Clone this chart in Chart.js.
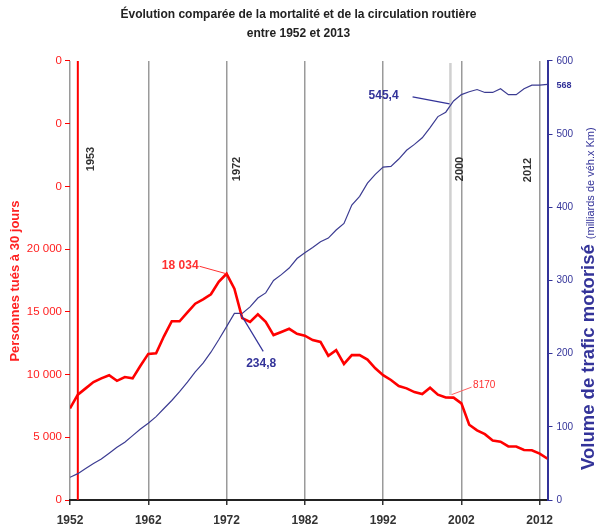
<!DOCTYPE html>
<html>
<head>
<meta charset="utf-8">
<script src="https://cdn.jsdelivr.net/npm/chart.js@4/dist/chart.umd.min.js"></script>
<style>
  html, body { margin: 0; padding: 0; background: #ffffff; }
  #c { display: block; }
</style>
</head>
<body>
<canvas id="c" width="597" height="528"></canvas>
<script>
// ---- Data ----
const years = [1952,1953,1954,1955,1956,1957,1958,1959,1960,1961,
               1962,1963,1964,1965,1966,1967,1968,1969,1970,1971,
               1972,1973,1974,1975,1976,1977,1978,1979,1980,1981,
               1982,1983,1984,1985,1986,1987,1988,1989,1990,1991,
               1992,1993,1994,1995,1996,1997,1998,1999,2000,2001,
               2002,2003,2004,2005,2006,2007,2008,2009,2010,2011,
               2012,2013];

// Personnes tuées à 30 jours
const deaths = [7300,8400,8900,9400,9700,9950,9500,9800,9700,10700,
                11650,11700,13050,14250,14250,14950,15650,16000,16400,17400,
                18034,16850,14500,14200,14800,14200,13150,13400,13650,13250,
                13100,12750,12600,11500,11950,10850,11550,11550,11200,10500,
                9950,9570,9080,8900,8600,8450,8950,8400,8170,8160,
                7700,6000,5550,5250,4750,4650,4270,4260,3990,3970,
                3700,3300];

// Volume de trafic motorisé (milliards de véh.x Km)
const traffic = [31,36,43,50,56,64,72,79,88,97,
                 105,114,125,136,148,161,175,187,202,219,
                 237,255,255,264,276,283,300,308,317,330,
                 338,345,353,358,369,378,403,415,433,445,
                 455,456,466,478,486,495,509,524,530,545.4,
                 554,558,561,557,557,562,554,554,562,567,
                 567,568];

const xTickYears = [1952,1962,1972,1982,1992,2002,2012];
const markerYears = ['1953','1972','2000','2012'];
const titleLines = ['Évolution comparée de la mortalité et de la circulation routière', 'entre 1952 et 2013'];

const FONT = "'Liberation Sans', Arial, sans-serif";
const RED = '#ff0000';
const NAVY = '#333399';

function vtext(ctx, text, x, y, font, color, align) {
  ctx.save();
  ctx.translate(x, y);
  ctx.rotate(-Math.PI / 2);
  ctx.font = font;
  ctx.fillStyle = color;
  ctx.textAlign = align || 'center';
  ctx.textBaseline = 'middle';
  ctx.fillText(text, 0, 0);
  ctx.restore();
}
function seg(ctx, x1, y1, x2, y2, color, w) {
  ctx.save();
  ctx.strokeStyle = color; ctx.lineWidth = w;
  ctx.beginPath(); ctx.moveTo(x1, y1); ctx.lineTo(x2, y2); ctx.stroke();
  ctx.restore();
}

const annot = {
  id: 'annot',
  beforeDatasetsDraw(chart) {
    const { ctx, chartArea: a, scales } = chart;
    const x = scales.x, yL = scales.y;
    // light grey marker line (2000)
    const gx = x.getPixelForValue(2000.6);
    seg(ctx, gx, a.top + 2, gx, yL.getPixelForValue(8370), '#d0d0d0', 2.5);
    // red marker line (1953)
    const rx = x.getPixelForValue(1953);
    seg(ctx, rx, a.top, rx, a.bottom, RED, 2);
    // vertical year labels
    const lf = 'bold 11px ' + FONT;
    vtext(ctx, markerYears[0], rx + 13, 159, lf, '#333');
    vtext(ctx, markerYears[1], x.getPixelForValue(1972) + 10, 169, lf, '#333');
    vtext(ctx, markerYears[2], gx + 9.5, 169, lf, '#333');
    vtext(ctx, markerYears[3], x.getPixelForValue(2012) - 12, 170, lf, '#333');
  },
  afterDatasetsDraw(chart) {
    const { ctx, scales } = chart;
    const x = scales.x, yL = scales.y, yR = scales.yR;
    ctx.save();
    // 18 034 (peak)
    const i72 = years.indexOf(1972);
    const px = x.getPixelForValue(1972), py = yL.getPixelForValue(deaths[i72]);
    seg(ctx, px, py, px - 27, py - 7.5, '#ff3030', 1);
    ctx.font = 'bold 12px ' + FONT; ctx.fillStyle = '#ff3030';
    ctx.textAlign = 'right'; ctx.textBaseline = 'middle';
    ctx.fillText('18 034', px - 28, py - 8);
    // 234,8
    const i74 = years.indexOf(1974);
    const qx = x.getPixelForValue(1974), qy = yR.getPixelForValue(traffic[i74]);
    seg(ctx, qx - 2, qy, qx + 21, qy + 38, NAVY, 1.2);
    ctx.fillStyle = NAVY; ctx.textAlign = 'center';
    ctx.fillText('234,8', qx + 19, qy + 50);
    // 545,4
    const i01 = years.indexOf(2001);
    const sx = x.getPixelForValue(2001), sy = yR.getPixelForValue(traffic[i01]);
    seg(ctx, sx - 4, sy + 3, sx - 41, sy - 4, NAVY, 1.2);
    ctx.textAlign = 'right';
    ctx.fillText('545,4', sx - 55, sy - 5.5);
    // 8170
    const dx = x.getPixelForValue(2001), dy = yL.getPixelForValue(deaths[i01]);
    seg(ctx, dx - 2, dy - 3, dx + 18, dy - 10.5, '#ff6060', 1);
    ctx.font = '10px ' + FONT; ctx.fillStyle = '#ff3030'; ctx.textAlign = 'left';
    ctx.fillText('8170', dx + 19.5, dy - 12.4);
    ctx.restore();
  },
  afterDraw(chart) {
    const { ctx, scales } = chart;
    const x = scales.x, yR = scales.yR;
    // last value label
    const n = traffic.length - 1;
    ctx.save();
    ctx.font = 'bold 9px ' + FONT; ctx.fillStyle = NAVY;
    ctx.textAlign = 'left'; ctx.textBaseline = 'middle';
    ctx.fillText('568', x.getPixelForValue(years[n]) + 9, yR.getPixelForValue(traffic[n]) + 1);
    ctx.restore();
    // left axis title
    vtext(ctx, 'Personnes tués à 30 jours', 15, 281, 'bold 13px ' + FONT, '#ff2020');
    // right axis title
    ctx.save();
    ctx.translate(588, 470);
    ctx.rotate(-Math.PI / 2);
    ctx.textAlign = 'left'; ctx.textBaseline = 'alphabetic';
    ctx.font = 'bold 18.5px ' + FONT; ctx.fillStyle = NAVY;
    const t1 = 'Volume de trafic motorisé';
    ctx.fillText(t1, 0, 6);
    const w1 = ctx.measureText(t1).width;
    ctx.font = '11px ' + FONT;
    ctx.fillText('(milliards de véh.x Km)', w1 + 5, 6);
    ctx.restore();
  }
};

new Chart(document.getElementById('c'), {
  type: 'line',
  data: {
    datasets: [
      {
        label: 'Personnes tuées à 30 jours',
        data: years.map((yr, i) => ({ x: yr, y: deaths[i] })),
        yAxisID: 'y',
        borderColor: RED,
        borderWidth: 2.6,
        pointRadius: 0,
        tension: 0
      },
      {
        label: 'Volume de trafic motorisé',
        data: years.map((yr, i) => ({ x: yr, y: traffic[i] })),
        yAxisID: 'yR',
        borderColor: '#3c3c92',
        borderWidth: 1.2,
        pointRadius: 0,
        tension: 0
      }
    ]
  },
  options: {
    responsive: false,
    animation: false,
    devicePixelRatio: 1,
    layout: { padding: 0 },
    plugins: {
      legend: { display: false },
      tooltip: { enabled: false },
      title: {
        display: true,
        text: titleLines,
        color: '#222',
        font: { family: FONT, size: 12, weight: 'bold', lineHeight: 1.583 },
        padding: { top: 5.5, bottom: 17.5 }
      }
    },
    scales: {
      x: {
        type: 'linear',
        min: 1952,
        max: 2013,
        afterBuildTicks(scale) { scale.ticks = xTickYears.map(v => ({ value: v })); },
        afterFit(scale) { scale.height = 28; },
        ticks: {
          autoSkip: false, maxRotation: 0, padding: 8,
          color: '#333',
          font: { family: FONT, size: 12, weight: 'bold' },
          callback: v => String(v)
        },
        grid: { color: '#9a9a9a', lineWidth: 1.5, tickLength: 5, tickColor: '#333', drawOnChartArea: true },
        border: { color: '#222', width: 2 }
      },
      y: {
        position: 'left',
        min: 0, max: 35000,
        afterFit(scale) { scale.width = 70; },
        ticks: {
          stepSize: 5000, padding: 3,
          color: '#ff2020',
          font: { family: FONT, size: 11.5 },
          callback: v => (v > 20000 ? '0' : (v === 0 ? '0' : (v / 1000) + ' 000'))
        },
        grid: { drawOnChartArea: false, tickLength: 5, color: RED, tickColor: RED },
        border: { display: false }
      },
      yR: {
        position: 'right',
        min: 0, max: 600,
        afterFit(scale) { scale.width = 49.5; },
        ticks: {
          stepSize: 100, padding: 4,
          color: NAVY,
          font: { family: FONT, size: 10 }
        },
        grid: { drawOnChartArea: false, tickLength: 5, color: NAVY, tickColor: NAVY },
        border: { color: NAVY, width: 2 }
      }
    }
  },
  plugins: [annot]
});
</script>
</body>
</html>
